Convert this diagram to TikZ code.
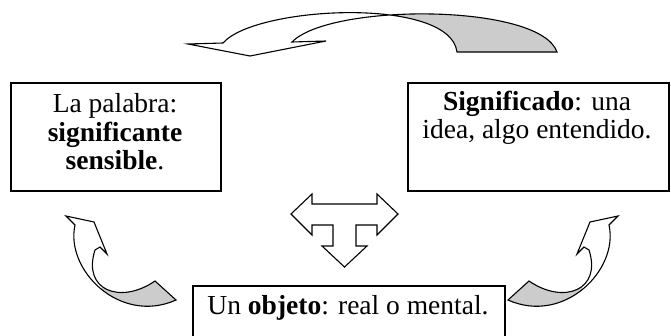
\documentclass[tikz,border=0pt]{standalone}
\usepackage{fontspec}
\setmainfont{Liberation Serif}
\definecolor{tailgray}{RGB}{204,204,204}
\tikzset{
  box/.style={draw, line width=1.6pt, rectangle, inner sep=0pt},
  txt/.style={align=center, inner sep=0pt, font=\fontsize{27.5}{28.5}\selectfont},
  shp/.style={draw, line width=1.1pt, fill=white, line join=miter},
}
\begin{document}
\begin{tikzpicture}[x=1pt,y=-1pt]
\useasboundingbox (0,0) rectangle (671,335);
% boxes
\node[box, minimum width=210pt, minimum height=108pt, anchor=north west] (L) at (10,82) {};
\node[box, minimum width=261pt, minimum height=108pt, anchor=north west] (R) at (407,82) {};
\node[box, minimum width=312pt, minimum height=60pt, anchor=north west] (B) at (192,285) {};
\node[txt] (Lt) at (115,132) {La palabra:\\ \textbf{significante}\\ \textbf{sensible}.};
\node[txt] (Rt) at (537,118) {\textbf{Significado}: una\\ idea, algo entendido.};
\node[txt] (Bt) at (348,308) {Un \textbf{objeto}: real o mental.};
% top curved arrow
\def\toparrow{(223,43) .. controls (255,6) and (450,-4) .. (457,52) -- (557,52) .. controls (540,3) and (330,3) .. (292,42) -- (326,41) -- (250,56) -- (188,44) -- cycle}
\fill[white] \toparrow;
\begin{scope}
\clip (386,0) rectangle (600,70);
\fill[tailgray] \toparrow;
\end{scope}
\draw[line width=1.1pt] \toparrow;
% T arrow
\draw[shp] (291,214) -- (312,194) -- (312,204) -- (377,204) -- (377,194) -- (398,214) -- (377,235) -- (377,225) -- (356,225) -- (356,246) -- (367,246) -- (344.5,267) -- (322,246) -- (333,246) -- (333,225) -- (312,225) -- (312,235) -- cycle;
% side curved arrows
\def\sidearrow{(75,225) .. controls (65,270) and (120,325) .. (176,300) -- (155,281) .. controls (120,305) and (82,290) .. (95,250) -- (100,247) -- (107,254) -- (94,222) -- (66,216) -- cycle}
\foreach \sx/\sc in {0/1,684/-1}{
\begin{scope}[xshift=\sx, xscale=\sc]
\fill[white] \sidearrow;
\begin{scope}
\clip (40,350) -- (200,190) -- (200,350) -- cycle;
\fill[tailgray] \sidearrow;
\end{scope}
\draw[line width=1.1pt] \sidearrow;
\end{scope}
}
\end{tikzpicture}
\end{document}
